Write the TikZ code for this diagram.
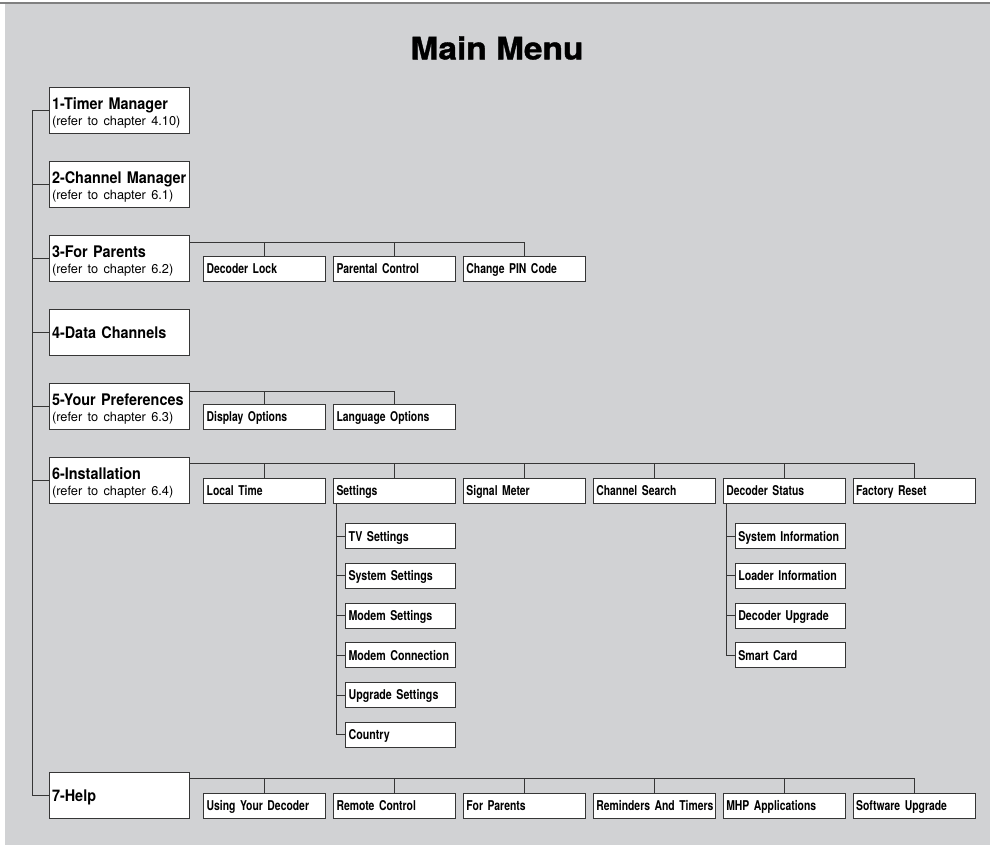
\documentclass[tikz,border=0pt]{standalone}
\usepackage{fontspec}
\setmainfont{TeX Gyre Heros}
\newfontfamily\titlefont{TeX Gyre Heros}[FakeStretch=1.08, FakeBold=1.2]
\newfontfamily\menufont{TeX Gyre Heros}[FakeStretch=0.9]
\newfontfamily\itemfont{TeX Gyre Heros}[FakeStretch=0.77]
\newfontfamily\subitemfont{TeX Gyre Heros}[FakeStretch=0.79]
\usetikzlibrary{positioning}
\definecolor{mmgray}{HTML}{D1D2D4}
\definecolor{mmrule}{HTML}{808080}
\definecolor{mmline}{HTML}{363636}
\newcommand{\msub}[1]{{\rmfamily\mdseries\fontsize{12.8}{16.5}\selectfont #1}}

\begin{document}
\begin{tikzpicture}[x=1pt, y=-1pt,
    every node/.style={align=left, inner ysep=0pt},
    mainbox/.style={draw=mmline, fill=white, line width=1.1pt, anchor=north west,
        minimum width=140pt, minimum height=46pt, text width=135pt, inner xsep=2.5pt,
        text height=11.5pt, text depth=14.5pt,
        font=\menufont\bfseries\fontsize{16}{16.5}\selectfont},
    itembox/.style={draw=mmline, fill=white, line width=1.1pt,
        minimum width=122pt, minimum height=25pt, text width=116pt, inner xsep=3pt,
        text height=9.7pt, text depth=0pt,
        execute at begin node=\hbox\bgroup, execute at end node=\egroup,
        font=\itemfont\bfseries\fontsize{13.5}{13.5}\selectfont},
    subbox/.style={itembox, minimum width=110pt, text width=104pt,
        font=\subitemfont\bfseries\fontsize{13.5}{13.5}\selectfont},
    link/.style={draw=mmline, line width=0.8pt}
]
    \useasboundingbox (0,0) rectangle (990,845);
    \fill[mmgray] (5,3.5) rectangle (990,845);
    \fill[mmrule] (0,2) rectangle (990,3.8);

    \node (title) at (497,48) {\titlefont\bfseries\fontsize{31}{31}\selectfont Main Menu};

    % main menu entries
    \node[mainbox] (timer) at (49,87) {1-Timer Manager\\\msub{(refer to chapter 4.10)}};
    \node[mainbox] (channel) at (49,161) {2-Channel Manager\\\msub{(refer to chapter 6.1)}};
    \node[mainbox] (parents) at (49,235) {3-For Parents\\\msub{(refer to chapter 6.2)}};
    \node[mainbox, text depth=0pt] (data) at (49,309) {4-Data Channels};
    \node[mainbox] (prefs) at (49,383) {5-Your Preferences\\\msub{(refer to chapter 6.3)}};
    \node[mainbox] (install) at (49,457) {6-Installation\\\msub{(refer to chapter 6.4)}};
    \node[mainbox, text depth=0pt] (help) at (49,772) {7-Help};

    \coordinate (spine) at ([xshift=-17pt]timer.west);
    \draw[link] (timer.west) -- (spine) |- (help.west);
    \foreach \n in {channel,parents,data,prefs,install}
        \draw[link] (\n.west) -- (\n.west -| spine);

    % 3-For Parents
    \node[itembox, above right=0pt and 13pt of parents.south east] (declock) {Decoder Lock};
    \node[itembox, right=6.8pt of declock] (parctrl) {Parental Control};
    \node[itembox, right=6.8pt of parctrl] (pincode) {Change PIN Code};
    \coordinate (bus3) at ([yshift=-7pt]parents.north east);
    \draw[link] (bus3) -| (pincode.north);
    \foreach \n in {declock,parctrl}
        \draw[link] (\n.north) -- (\n.north |- bus3);

    % 5-Your Preferences
    \node[itembox, above right=0pt and 13pt of prefs.south east] (display) {Display Options};
    \node[itembox, right=6.8pt of display] (language) {Language Options};
    \coordinate (bus5) at ([yshift=-8pt]prefs.north east);
    \draw[link] (bus5) -| (language.north);
    \draw[link] (display.north) -- (display.north |- bus5);

    % 6-Installation
    \node[itembox, above right=0pt and 13pt of install.south east] (loctime) {Local Time};
    \node[itembox, right=6.8pt of loctime] (settings) {Settings};
    \node[itembox, right=6.8pt of settings] (sigmeter) {Signal Meter};
    \node[itembox, right=6.8pt of sigmeter] (chsearch) {Channel Search};
    \node[itembox, right=6.8pt of chsearch] (decstatus) {Decoder Status};
    \node[itembox, right=6.8pt of decstatus] (facreset) {Factory Reset};
    \coordinate (bus6) at ([yshift=-6.5pt]install.north east);
    \draw[link] (bus6) -| (facreset.north);
    \foreach \n in {loctime,settings,sigmeter,chsearch,decstatus}
        \draw[link] (\n.north) -- (\n.north |- bus6);

    % Settings
    \node[subbox, below right=19pt and 12pt of settings.south west] (tvset) {TV Settings};
    \node[subbox, below=13.6pt of tvset] (sysset) {System Settings};
    \node[subbox, below=13.6pt of sysset] (modset) {Modem Settings};
    \node[subbox, below=13.6pt of modset] (modconn) {Modem Connection};
    \node[subbox, below=13.6pt of modconn] (upgset) {Upgrade Settings};
    \node[subbox, below=13.6pt of upgset] (country) {Country};
    \coordinate (setspine) at ([xshift=3.5pt]settings.south west);
    \draw[link] (setspine) |- (country.west);
    \foreach \n in {tvset,sysset,modset,modconn,upgset}
        \draw[link] (\n.west) -- (\n.west -| setspine);

    % Decoder Status
    \node[subbox, below right=19pt and 12pt of decstatus.south west] (sysinfo) {System Information};
    \node[subbox, below=13.6pt of sysinfo] (loadinfo) {Loader Information};
    \node[subbox, below=13.6pt of loadinfo] (decupg) {Decoder Upgrade};
    \node[subbox, below=13.6pt of decupg] (smartcard) {Smart Card};
    \coordinate (decspine) at ([xshift=3.5pt]decstatus.south west);
    \draw[link] (decspine) |- (smartcard.west);
    \foreach \n in {sysinfo,loadinfo,decupg}
        \draw[link] (\n.west) -- (\n.west -| decspine);

    % 7-Help
    \node[itembox, above right=0pt and 13pt of help.south east] (usedec) {Using Your Decoder};
    \node[itembox, right=6.8pt of usedec] (remote) {Remote Control};
    \node[itembox, right=6.8pt of remote] (helpparents) {For Parents};
    \node[itembox, right=6.8pt of helpparents] (reminders) {Reminders And Timers};
    \node[itembox, right=6.8pt of reminders] (mhp) {MHP Applications};
    \node[itembox, right=6.8pt of mhp] (swupg) {Software Upgrade};
    \coordinate (bus7) at ([yshift=-6pt]help.north east);
    \draw[link] (bus7) -| (swupg.north);
    \foreach \n in {usedec,remote,helpparents,reminders,mhp}
        \draw[link] (\n.north) -- (\n.north |- bus7);
\end{tikzpicture}
\end{document}
